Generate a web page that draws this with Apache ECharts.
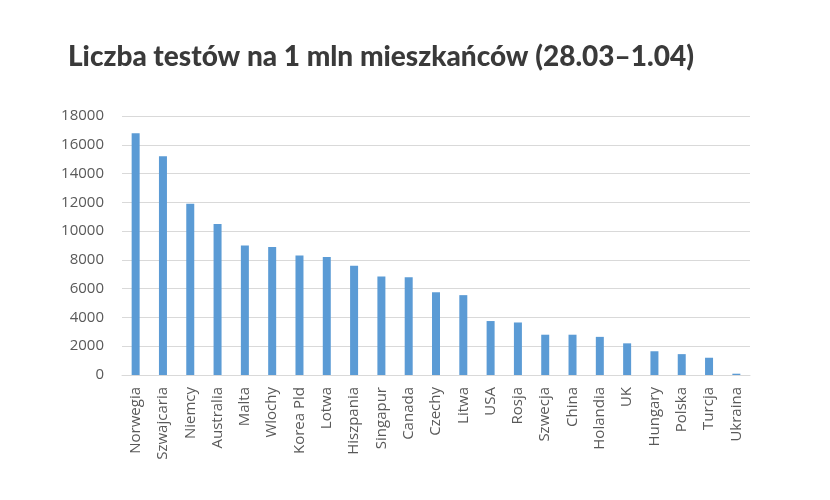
<!DOCTYPE html>
<html>
<head>
<meta charset="utf-8">
<script src="https://cdn.jsdelivr.net/npm/echarts@6/dist/echarts.min.js"></script>
<style>
  html, body { margin: 0; padding: 0; background: #fff; }
  #chart { width: 830px; height: 500px; }
</style>
</head>
<body>
<div id="chart"></div>
<script>
const countries = ['Norwegia', 'Szwajcaria', 'Niemcy', 'Australia', 'Malta', 'Wlochy', 'Korea Pld', 'Lotwa',
  'Hiszpania', 'Singapur', 'Canada', 'Czechy', 'Litwa', 'USA', 'Rosja', 'Szwecja', 'China', 'Holandia',
  'UK', 'Hungary', 'Polska', 'Turcja', 'Ukraina']
const testsPerMillion = [16800, 15200, 11900, 10500, 9000, 8900, 8300, 8200,
  7600, 6850, 6800, 5750, 5550, 3750, 3650, 2800, 2800, 2650,
  2200, 1650, 1450, 1200, 90]
const yTicks = { min: 0, max: 18000, interval: 2000 }

const chart = echarts.init(document.getElementById('chart'))

const option = {
  animation: false,
  title: {
    text: 'Liczba testów na 1 mln mieszkańców (28.03–1.04)',
    left: 63,
    top: 38,
    textStyle: {
      fontFamily: 'Lato',
      fontWeight: 900,
      fontSize: 28,
      color: '#3a3a3a',
    },
  },
  grid: {
    left: 122,
    right: 80,
    top: 116,
    bottom: 125,
  },
  xAxis: {
    type: 'category',
    data: countries,
    axisLine: { lineStyle: { color: '#d9d9d9', width: 1 } },
    axisTick: { show: false },
    axisLabel: {
      rotate: 90,
      interval: 0,
      margin: 12,
      color: '#595959',
      fontFamily: 'Open Sans',
      fontSize: 15,
    },
  },
  yAxis: {
    type: 'value',
    min: yTicks.min,
    max: yTicks.max,
    interval: yTicks.interval,
    axisLine: { show: false },
    axisTick: { show: false },
    splitLine: { lineStyle: { color: '#d9d9d9', width: 1 } },
    axisLabel: {
      margin: 18,
      color: '#595959',
      fontFamily: 'Open Sans',
      fontSize: 15,
      formatter: (v) => String(v),
    },
  },
  series: [
    {
      type: 'bar',
      data: testsPerMillion,
      barWidth: 8,
      itemStyle: { color: '#5b9bd5' },
    },
  ],
}

chart.setOption(option)
</script>
</body>
</html>
